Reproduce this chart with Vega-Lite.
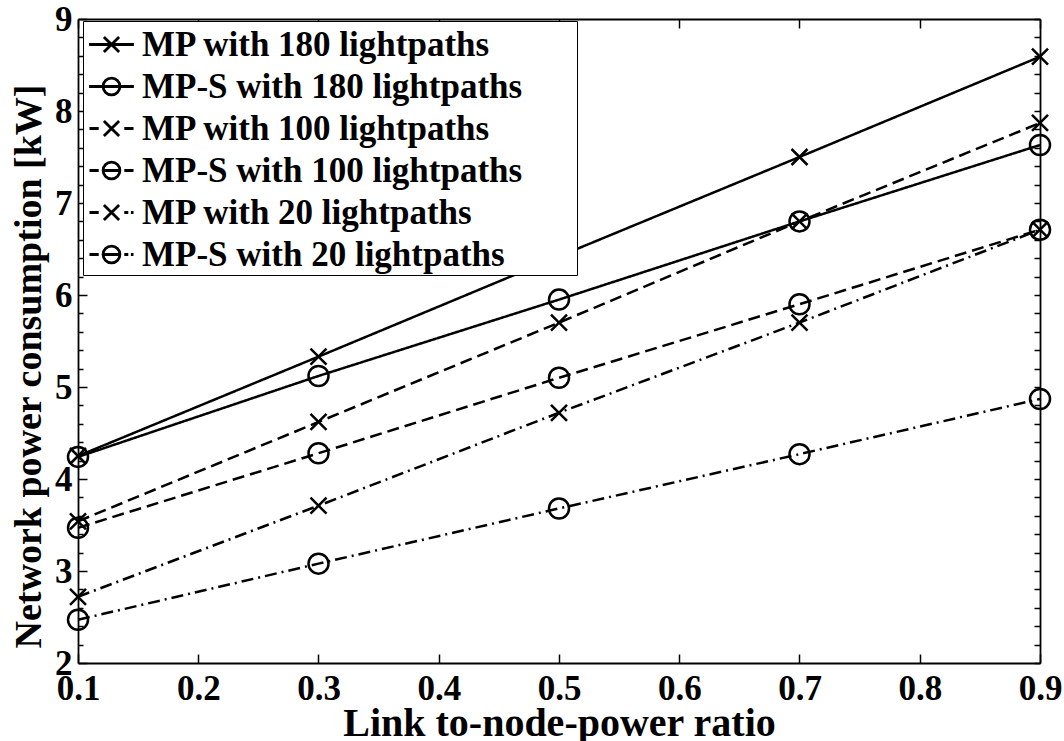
{
  "$schema": "https://vega.github.io/schema/vega-lite/v6.json",
  "width": 962,
  "height": 644,
  "autosize": "none",
  "padding": {"left": 78, "top": 19, "right": 24, "bottom": 78},
  "background": "white",
  "config": {
    "view": {"stroke": null},
    "font": "Liberation Serif",
    "axis": {"grid": false, "domainColor": "black", "tickColor": "black", "labelColor": "black", "titleColor": "black", "domainWidth": 1.8, "tickWidth": 1.5}
  },
  "data": {"values": [
    {"x": 0.1, "y": 4.25, "series": "MP with 180 lightpaths"},
    {"x": 0.3, "y": 5.33, "series": "MP with 180 lightpaths"},
    {"x": 0.5, "y": 6.42, "series": "MP with 180 lightpaths"},
    {"x": 0.7, "y": 7.5, "series": "MP with 180 lightpaths"},
    {"x": 0.9, "y": 8.59, "series": "MP with 180 lightpaths"},
    {"x": 0.1, "y": 4.24, "series": "MP-S with 180 lightpaths"},
    {"x": 0.3, "y": 5.12, "series": "MP-S with 180 lightpaths"},
    {"x": 0.5, "y": 5.95, "series": "MP-S with 180 lightpaths"},
    {"x": 0.7, "y": 6.8, "series": "MP-S with 180 lightpaths"},
    {"x": 0.9, "y": 7.63, "series": "MP-S with 180 lightpaths"},
    {"x": 0.1, "y": 3.54, "series": "MP with 100 lightpaths"},
    {"x": 0.3, "y": 4.62, "series": "MP with 100 lightpaths"},
    {"x": 0.5, "y": 5.7, "series": "MP with 100 lightpaths"},
    {"x": 0.7, "y": 6.8, "series": "MP with 100 lightpaths"},
    {"x": 0.9, "y": 7.87, "series": "MP with 100 lightpaths"},
    {"x": 0.1, "y": 3.47, "series": "MP-S with 100 lightpaths"},
    {"x": 0.3, "y": 4.28, "series": "MP-S with 100 lightpaths"},
    {"x": 0.5, "y": 5.1, "series": "MP-S with 100 lightpaths"},
    {"x": 0.7, "y": 5.9, "series": "MP-S with 100 lightpaths"},
    {"x": 0.9, "y": 6.71, "series": "MP-S with 100 lightpaths"},
    {"x": 0.1, "y": 2.72, "series": "MP with 20 lightpaths"},
    {"x": 0.3, "y": 3.71, "series": "MP with 20 lightpaths"},
    {"x": 0.5, "y": 4.72, "series": "MP with 20 lightpaths"},
    {"x": 0.7, "y": 5.7, "series": "MP with 20 lightpaths"},
    {"x": 0.9, "y": 6.71, "series": "MP with 20 lightpaths"},
    {"x": 0.1, "y": 2.47, "series": "MP-S with 20 lightpaths"},
    {"x": 0.3, "y": 3.08, "series": "MP-S with 20 lightpaths"},
    {"x": 0.5, "y": 3.68, "series": "MP-S with 20 lightpaths"},
    {"x": 0.7, "y": 4.27, "series": "MP-S with 20 lightpaths"},
    {"x": 0.9, "y": 4.87, "series": "MP-S with 20 lightpaths"}
  ]},
  "resolve": {"axis": {"x": "independent", "y": "independent"}},
  "layer": [
    {
      "mark": {"type": "line", "color": "black", "strokeWidth": 2.5, "clip": false},
      "encoding": {
        "x": {"field": "x", "type": "quantitative", "scale": {"domain": [0.1, 0.9], "nice": false, "zero": false},
          "axis": {"orient": "bottom", "values": [0.1, 0.2, 0.3, 0.4, 0.5, 0.6, 0.7, 0.8, 0.9], "format": ".1f", "tickSize": -9, "labelPadding": 17,
            "labelFont": "Liberation Serif", "labelFontWeight": "bold", "labelFontSize": 35, "labelFlush": false,
            "title": "Link to-node-power ratio", "titleFont": "Liberation Serif", "titleFontWeight": "bold", "titleFontSize": 40,
            "titleX": 481, "titleY": 72, "titleBaseline": "alphabetic", "titleAnchor": "middle", "titleAlign": "center"}},
        "y": {"field": "y", "type": "quantitative", "scale": {"domain": [2, 9], "nice": false, "zero": false},
          "axis": {"orient": "left", "values": [2, 3, 4, 5, 6, 7, 8, 9], "format": "d", "tickSize": -9, "labelPadding": 15,
            "labelFont": "Liberation Serif", "labelFontWeight": "bold", "labelFontSize": 35, "labelFlush": false,
            "title": "Network power consumption [kW]", "titleFont": "Liberation Serif", "titleFontWeight": "bold", "titleFontSize": 38,
            "titleX": -38, "titleY": 347, "titleAngle": -90, "titleBaseline": "alphabetic", "titleAlign": "center", "titleAnchor": "middle"}},
        "detail": {"field": "series"},
        "strokeDash": {"field": "series", "type": "nominal", "legend": null,
          "scale": {"domain": ["MP-S with 180 lightpaths", "MP with 180 lightpaths", "MP with 100 lightpaths", "MP-S with 100 lightpaths", "MP with 20 lightpaths", "MP-S with 20 lightpaths"],
            "range": [[1, 0], [1, 0], [12, 6], [12, 6], [12, 5, 2, 5], [12, 5, 2, 5]]}}
      }
    },
    {
      "transform": [{"filter": "indexof(datum.series, 'MP-S') < 0"}],
      "mark": {"type": "point", "filled": false, "color": "black", "opacity": 1, "strokeWidth": 2.5, "size": 400, "clip": false,
        "shape": "M-0.8,-0.8L0.8,0.8M-0.8,0.8L0.8,-0.8"},
      "encoding": {
        "x": {"field": "x", "type": "quantitative", "axis": null},
        "y": {"field": "y", "type": "quantitative", "axis": null}
      }
    },
    {
      "transform": [{"filter": "indexof(datum.series, 'MP-S') >= 0"}],
      "mark": {"type": "point", "filled": false, "color": "black", "opacity": 1, "strokeWidth": 2.5, "size": 400, "clip": false,
        "shape": "circle"},
      "encoding": {
        "x": {"field": "x", "type": "quantitative", "axis": null},
        "y": {"field": "y", "type": "quantitative", "axis": null}
      }
    },
    {
      "mark": {"type": "point", "filled": false, "color": "black", "opacity": 0, "size": 1},
      "encoding": {
        "x": {"field": "x", "type": "quantitative", "axis": null},
        "y": {"field": "y", "type": "quantitative", "axis": null},
        "shape": {"field": "series", "type": "nominal",
          "scale": {"domain": ["MP with 180 lightpaths", "MP-S with 180 lightpaths", "MP with 100 lightpaths", "MP-S with 100 lightpaths", "MP with 20 lightpaths", "MP-S with 20 lightpaths"],
            "range": [
              "M-1.12,0L1.12,0M-0.38,-0.38L0.38,0.38M-0.38,0.38L0.38,-0.38",
              "M-1.12,0L-0.42,0M0.42,0L1.12,0M-0.42,0L0.42,0M0.42,0A0.42,0.42 0 1,1 -0.42,0A0.42,0.42 0 1,1 0.42,0Z",
              "M-1.1,0L-0.64,0M0.64,0L1.1,0M-0.38,-0.38L0.38,0.38M-0.38,0.38L0.38,-0.38",
              "M-1.1,0L-0.64,0M0.64,0L1.1,0M-0.42,0L0.42,0M0.42,0A0.42,0.42 0 1,1 -0.42,0A0.42,0.42 0 1,1 0.42,0Z",
              "M-1.1,0L-0.64,0M0.64,0L0.84,0M0.97,0L1.1,0M-0.38,-0.38L0.38,0.38M-0.38,0.38L0.38,-0.38",
              "M-1.1,0L-0.64,0M0.64,0L0.84,0M0.97,0L1.1,0M-0.42,0L0.42,0M0.42,0A0.42,0.42 0 1,1 -0.42,0A0.42,0.42 0 1,1 0.42,0Z"]},
          "legend": {
            "title": null, "orient": "none", "legendX": 5, "legendY": 2,
            "strokeColor": "black", "fillColor": "white", "padding": 2,
            "symbolSize": 1600, "symbolStrokeWidth": 2.8, "symbolStrokeColor": "black", "symbolFillColor": "transparent", "symbolOpacity": 1, "symbolOffset": 5,
            "labelFont": "Liberation Serif", "labelFontWeight": "bold", "labelFontSize": 35, "labelColor": "black", "labelOffset": 9, "labelLimit": 700,
            "labelExpr": "datum.label + '\u00a0\u00a0\u00a0\u00a0\u00a0\u00a0\u200b'",
            "rowPadding": 2,
            "encode": {"symbols": {
              "size": {"value": 1600},
              "opacity": {"value": 1},
              "fill": {"value": "transparent"},
              "stroke": {"value": "black"},
              "strokeWidth": {"value": 2.8}
            }}
          }}
      }
    },
    {
      "mark": {"type": "point", "opacity": 0},
      "encoding": {
        "x": {"field": "x", "type": "quantitative",
          "axis": {"orient": "top", "values": [0.1, 0.2, 0.3, 0.4, 0.5, 0.6, 0.7, 0.8, 0.9], "labels": false, "tickSize": -9, "title": null}},
        "y": {"field": "y", "type": "quantitative",
          "axis": {"orient": "right", "values": [2, 2.2, 2.4, 2.6, 2.8, 3, 3.2, 3.4, 3.6, 3.8, 4, 4.2, 4.4, 4.6, 4.8, 5, 5.2, 5.4, 5.6, 5.8, 6, 6.2, 6.4, 6.6, 6.8, 7, 7.2, 7.4, 7.6, 7.8, 8, 8.2, 8.4, 8.6, 8.8, 9], "labels": false, "tickSize": -6, "title": null}}
      }
    },
    {
      "mark": {"type": "point", "opacity": 0},
      "encoding": {
        "x": {"field": "x", "type": "quantitative", "axis": null},
        "y": {"field": "y", "type": "quantitative",
          "axis": {"orient": "left", "values": [2.2, 2.4, 2.6, 2.8, 3.2, 3.4, 3.6, 3.8, 4.2, 4.4, 4.6, 4.8, 5.2, 5.4, 5.6, 5.8, 6.2, 6.4, 6.6, 6.8, 7.2, 7.4, 7.6, 7.8, 8.2, 8.4, 8.6, 8.8], "labels": false, "domain": false, "tickSize": -5, "title": null}}
      }
    }
  ]
}
